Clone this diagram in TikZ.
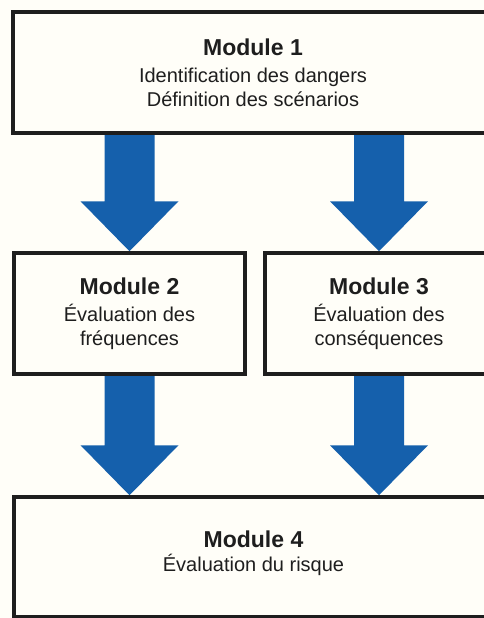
\documentclass[tikz,border=0pt]{standalone}
\usepackage{fontspec}
\setmainfont{Liberation Sans}
\usetikzlibrary{calc}
\definecolor{arrowblue}{HTML}{1560AC}
\definecolor{paper}{HTML}{FFFEF8}
\definecolor{ink}{HTML}{1E1E1E}
\pgfdeclarelayer{bglayer}
\pgfdeclarelayer{arrowlayer}
\pgfsetlayers{bglayer,arrowlayer,main}
\newcommand{\bigarrow}[2]{%
  \fill[arrowblue]
    ($(#1)+(-25,0)$) -- ($(#2)+(-25,-50)$) -- ($(#2)+(-49,-50)$) -- (#2)
    -- ($(#2)+(49,-50)$) -- ($(#2)+(25,-50)$) -- ($(#1)+(25,0)$) -- cycle;}
\begin{document}
\begin{tikzpicture}[x=1pt,y=-1pt,
  modbox/.style={draw=ink, line width=3.5pt, fill=paper, text=ink,
    align=center, inner sep=0pt, font=\fontsize{20}{24}\selectfont}]
\path[use as bounding box] (0,0) rectangle (484,618);
\clip (0,0) rectangle (484,618);
\begin{pgfonlayer}{bglayer}
  \fill[paper] (0,0) rectangle (484,618);
\end{pgfonlayer}
\node[modbox, minimum width=480pt, minimum height=121pt] (m1) at (253,72.5)
  {{\fontsize{23}{26}\selectfont\bfseries Module 1}\\[3pt]
   Identification des dangers\\ Définition des scénarios};
\node[modbox, minimum width=231pt, minimum height=121pt] (m2) at (129.5,313.5)
  {{\fontsize{23}{26}\selectfont\bfseries Module 2}\\[3pt]
   Évaluation des\\ fréquences};
\node[modbox, minimum width=228pt, minimum height=121pt] (m3) at (379,313.5)
  {{\fontsize{23}{26}\selectfont\bfseries Module 3}\\[3pt]
   Évaluation des\\ conséquences};
\node[modbox, minimum width=479pt, minimum height=120pt] (m4) at (253.5,557)
  {{\fontsize{23}{26}\selectfont\bfseries Module 4}\\[0pt]
   Évaluation du risque\\[-12pt]\mbox{}};
\coordinate (a1s) at (m2.north |- m1.south);
\coordinate (a2s) at (m3.north |- m1.south);
\coordinate (a3e) at (m2.south |- m4.north);
\coordinate (a4e) at (m3.south |- m4.north);
\begin{pgfonlayer}{arrowlayer}
  \bigarrow{a1s}{m2.north}
  \bigarrow{a2s}{m3.north}
  \bigarrow{m2.south}{a3e}
  \bigarrow{m3.south}{a4e}
\end{pgfonlayer}
\end{tikzpicture}
\end{document}
